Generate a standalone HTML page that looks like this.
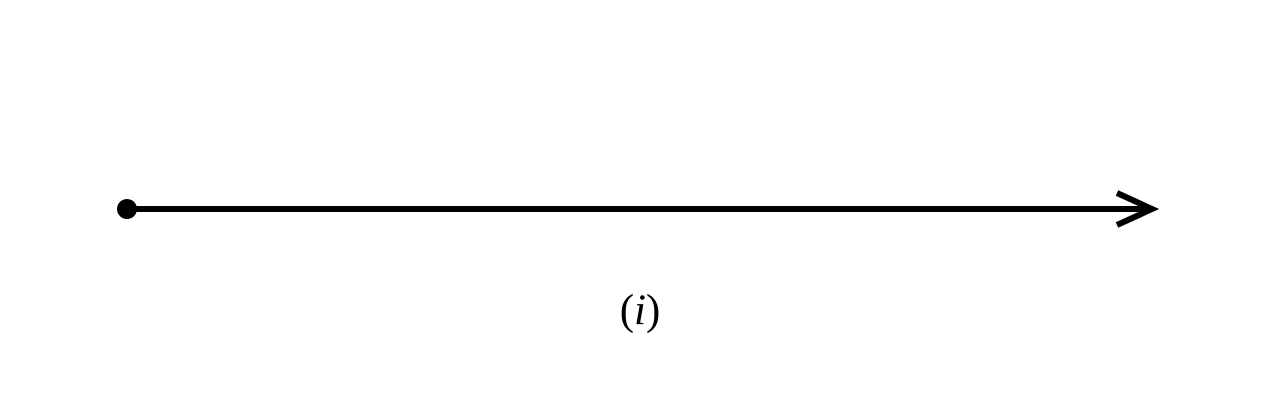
<!DOCTYPE html>
<html><head><meta charset="utf-8"><style>
html,body{margin:0;padding:0;background:#fff;width:1280px;height:420px;overflow:hidden}
</style></head><body>
<svg width="1280" height="420" viewBox="0 0 1280 420">
<script>
const startX=[127];
</script>
<line x1="127" y1="209" x2="1150" y2="209" stroke="#000" stroke-width="6"/>
<circle cx="127" cy="209" r="10" fill="#000"/>
<polyline points="1117,193 1152,209 1117,225" fill="none" stroke="#000" stroke-width="6" stroke-linejoin="miter"/>
<text x="640" y="324" text-anchor="middle" font-family="Liberation Serif, serif" font-size="43" fill="#000">(<tspan font-style="italic">i</tspan>)</text>
</svg>
</body></html>
